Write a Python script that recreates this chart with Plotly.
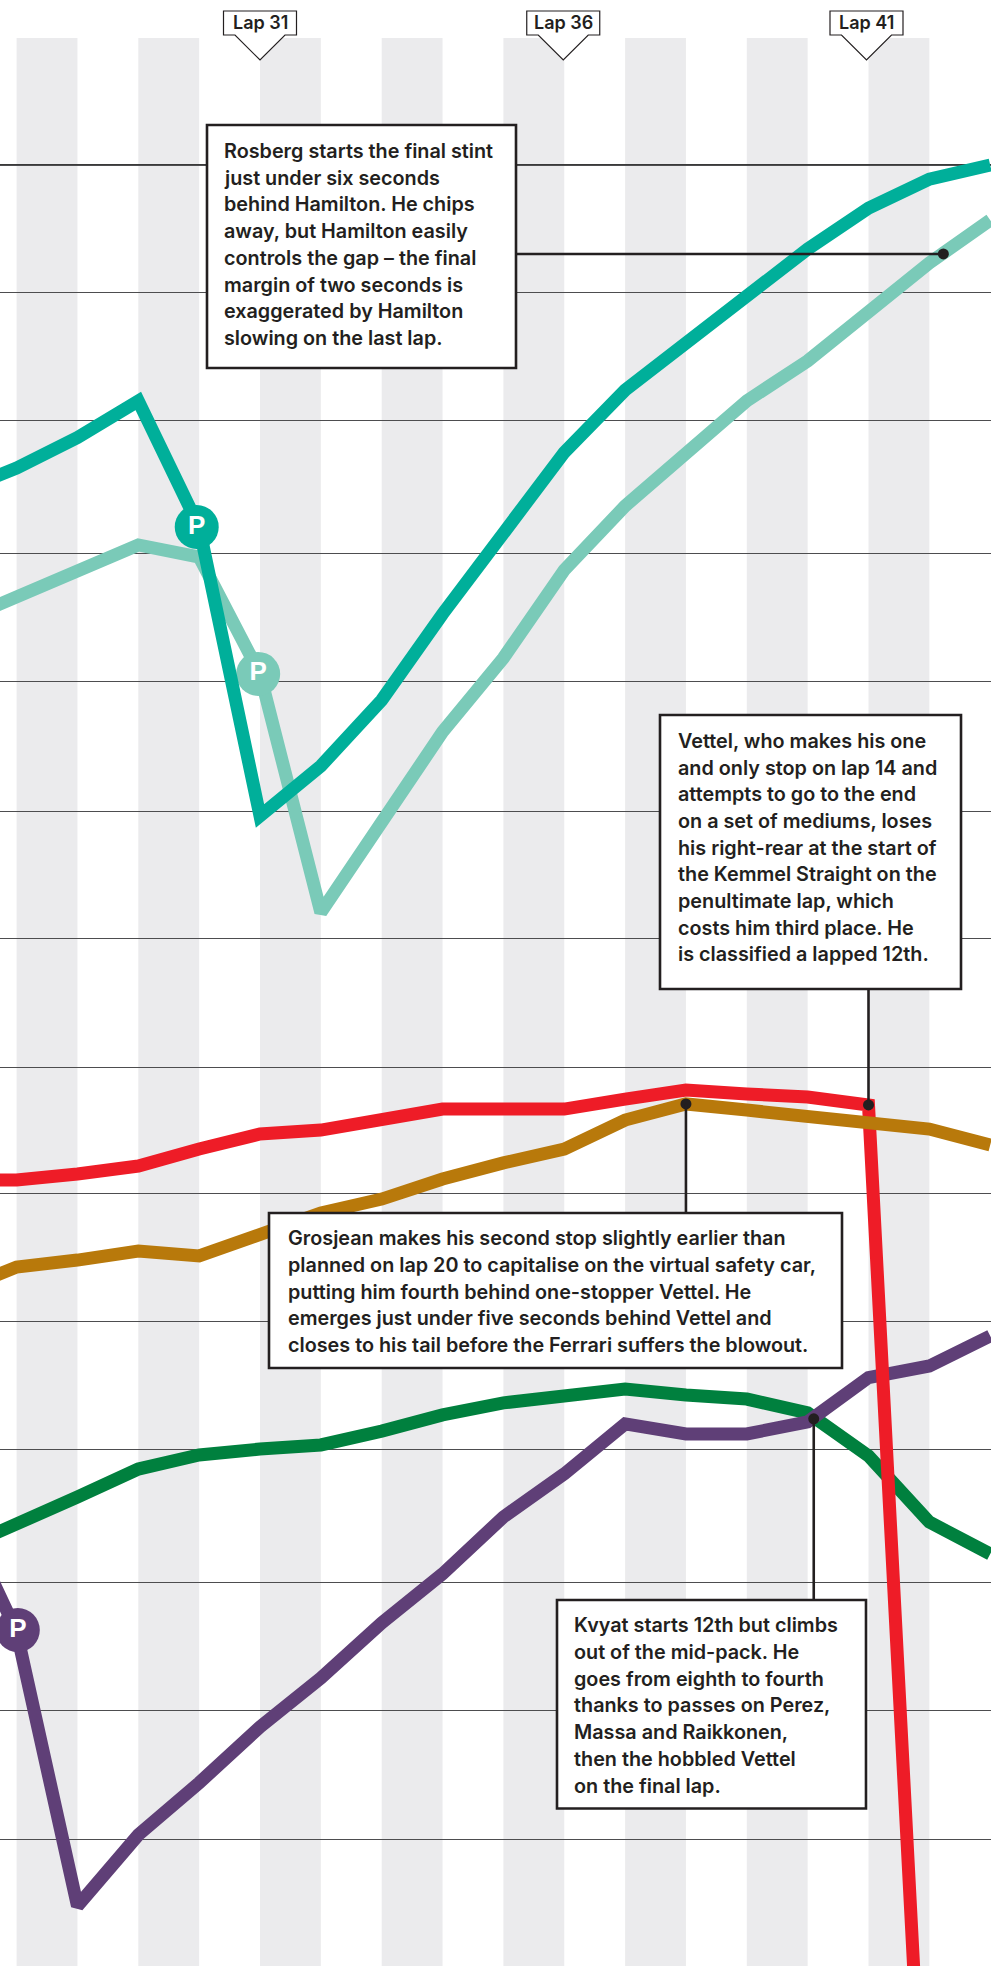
import plotly.graph_objects as go

W, H = 991, 1966
FONT = "Inter"
INK = "#231F20"

laps = list(range(26, 44))
hamilton = [12.79, 11.82, 10.63, 9.20, 14.12, 25.39, 23.44, 20.87, 17.51, 14.35, 11.21, 8.78, 6.90, 5.07, 3.28, 1.68, 0.55, 0.00]
rosberg = [17.86, 16.89, 15.87, 14.82, 15.29, 19.85, 29.15, 25.55, 22.11, 19.23, 15.80, 13.30, 11.27, 9.20, 7.64, 5.66, 3.82, 2.15]
vettel = [39.59, 39.59, 39.35, 39.04, 38.38, 37.79, 37.64, 37.21, 36.82, 36.82, 36.82, 36.43, 36.08, 36.23, 36.35, 36.66, 82.0]
grosjean = [43.95, 42.98, 42.71, 42.36, 42.55, 41.65, 40.87, 40.33, 39.55, 38.92, 38.38, 37.25, 36.62, 36.86, 37.13, 37.40, 37.60, 38.22]
raikkonen = [54.05, 52.93, 51.95, 50.86, 50.31, 50.08, 49.92, 49.38, 48.75, 48.28, 48.05, 47.74, 47.97, 48.13, 48.67, 50.35, 52.93, 54.17]
kvyat = [52.15, 57.2, 67.90, 65.13, 63.10, 60.92, 59.01, 56.86, 54.95, 52.73, 51.05, 49.10, 49.49, 49.49, 49.02, 47.29, 46.84, 45.67]

grid_values = [0, 4.99, 9.95, 15.16, 20.16, 25.20, 30.15, 35.18, 40.12, 45.09, 50.10, 55.27, 60.26, 65.29]
stripe_starts = [27, 29, 31, 33, 35, 37, 39, 41]
lap_labels = [31, 36, 41]

stops_hamilton = ([29.96], [14.12])
stops_rosberg = ([30.97], [19.85])
stops_kvyat = ([27.02], [57.14])

dots_x = [42.23, 38, 41, 40.1]
dots_y = [3.47, 36.62, 36.66, 48.9]

rosberg_note = ["Rosberg starts the final stint", "just under six seconds", "behind Hamilton. He chips",
                "away, but Hamilton easily", "controls the gap \u2013 the final", "margin of two seconds is",
                "exaggerated by Hamilton", "slowing on the last lap."]
vettel_note = ["Vettel, who makes his one", "and only stop on lap 14 and", "attempts to go to the end",
               "on a set of mediums, loses", "his right-rear at the start of", "the Kemmel Straight on the",
               "penultimate lap, which", "costs him third place. He", "is classified a lapped 12th."]
grosjean_note = ["Grosjean makes his second stop slightly earlier than",
                 "planned on lap 20 to capitalise on the virtual safety car,",
                 "putting him fourth behind one-stopper Vettel. He",
                 "emerges just under five seconds behind Vettel and",
                 "closes to his tail before the Ferrari suffers the blowout."]
kvyat_note = ["Kvyat starts 12th but climbs", "out of the mid-pack. He", "goes from eighth to fourth",
              "thanks to passes on Perez,", "Massa and Raikkonen,", "then the hobbled Vettel", "on the final lap."]

DARK, LIGHT, RED, OCHRE, GREEN, PURPLE = "#00AF9A", "#7ACAB8", "#EE1C27", "#B8790B", "#00803E", "#5F3F77"

# page-pixel helpers for furniture
px = lambda x: x / W
py = lambda y: 1 - y / H
lap_at = lambda x: 31 + (x - 260) / 60.85
val_at = lambda y: (y - 165) / 25.64

fig = go.Figure()


def line(y, color, name):
    fig.add_trace(go.Scatter(x=laps[:len(y)], y=y, mode="lines", name=name,
                             line=dict(color=color, width=13), hoverinfo="skip"))


def badge(pt, color):
    fig.add_trace(go.Scatter(x=pt[0], y=pt[1], mode="markers+text", text=["P"], textposition="middle center",
                             marker=dict(size=44, color=color, line=dict(width=0)),
                             textfont=dict(family="Liberation Sans", size=26, color="white", weight="bold"),
                             hoverinfo="skip"))


line(raikkonen, GREEN, "Raikkonen")
line(kvyat, PURPLE, "Kvyat")
badge(stops_kvyat, PURPLE)
line(vettel, RED, "Vettel")
line(grosjean, OCHRE, "Grosjean")
line(rosberg, LIGHT, "Rosberg")
badge(stops_rosberg, LIGHT)
line(hamilton, DARK, "Hamilton")
badge(stops_hamilton, DARK)
fig.add_trace(go.Scatter(x=dots_x, y=dots_y, mode="markers", marker=dict(size=11, color=INK), hoverinfo="skip"))

shapes = []
for s in stripe_starts:
    shapes.append(dict(type="rect", layer="below", xref="x", yref="paper", x0=s, x1=s + 1, y0=0, y1=py(38),
                       fillcolor="#EBEBED", line=dict(width=0)))
# heavier first rule
shapes.append(dict(type="line", layer="between", xref="paper", yref="y", x0=0, x1=1, y0=0, y1=0,
                   line=dict(color="#3a3a3a", width=2)))
leader = dict(color=INK, width=2.6)
shapes.append(dict(type="line", xref="paper", yref="y", x0=px(517), x1=px(943), y0=dots_y[0], y1=dots_y[0], line=leader))
shapes.append(dict(type="line", xref="x", yref="y", x0=dots_x[1], x1=dots_x[1], y0=dots_y[1], y1=val_at(1213), line=leader))
shapes.append(dict(type="line", xref="x", yref="y", x0=dots_x[2], x1=dots_x[2], y0=dots_y[2], y1=val_at(989), line=leader))
shapes.append(dict(type="line", xref="x", yref="y", x0=dots_x[3], x1=dots_x[3], y0=dots_y[3], y1=val_at(1600), line=leader))


def box(x0, y0, x1, y1):
    shapes.append(dict(type="rect", xref="paper", yref="paper", x0=px(x0), x1=px(x1), y0=py(y0), y1=py(y1),
                       fillcolor="white", line=dict(color=INK, width=2.6)))


box(207, 125, 516, 368)
box(660, 715, 961, 989)
box(269, 1213, 842, 1368)
box(557, 1600, 866, 1808.5)

annotations = []


def note(lines, x, first_y, step, size=19.8):
    for i, t in enumerate(lines):
        annotations.append(dict(text=t, xref="paper", yref="paper", x=px(x), y=py(first_y + i * step),
                                xanchor="left", yanchor="middle", showarrow=False, align="left", borderpad=0,
                                font=dict(family=FONT, size=size, color=INK, weight=600)))


note(rosberg_note, 223, 151, 26.7)
note(vettel_note, 677, 741, 26.65)
note(grosjean_note, 286.5, 1238, 26.75)
note(kvyat_note, 573, 1625, 26.75)

for lap in lap_labels:
    c = 260 + (lap - 31) * 60.65
    path = (f"M {px(c-36.5)} {py(11)} L {px(c+36.5)} {py(11)} L {px(c+36.5)} {py(35)} L {px(c+25)} {py(35)} "
            f"L {px(c)} {py(60)} L {px(c-25)} {py(35)} L {px(c-36.5)} {py(35)} Z")
    shapes.append(dict(type="path", xref="paper", yref="paper", path=path, fillcolor="white",
                       line=dict(color=INK, width=1.2)))
    annotations.append(dict(text=f"Lap {lap}", xref="paper", yref="paper", x=px(c), y=py(23), xanchor="center",
                            yanchor="middle", showarrow=False, borderpad=0,
                            font=dict(family=FONT, size=18, color=INK, weight=600)))

fig.update_layout(
    width=W, height=H, margin=dict(l=0, r=0, t=0, b=0), showlegend=False,
    paper_bgcolor="white", plot_bgcolor="white", shapes=shapes, annotations=annotations,
    xaxis=dict(range=[lap_at(0), lap_at(991)], visible=True, showgrid=False, zeroline=False, showticklabels=False, ticks=""),
    yaxis=dict(range=[val_at(1966), val_at(0)], tickmode="array", tickvals=grid_values, showticklabels=False, ticks="",
               showgrid=True, gridcolor="#4d4d4f", gridwidth=1.4, zeroline=False),
)
fig.write_html("out.html", config=dict(displayModeBar=False),
               post_script="document.body.style.margin='0';document.body.style.overflow='hidden';")
